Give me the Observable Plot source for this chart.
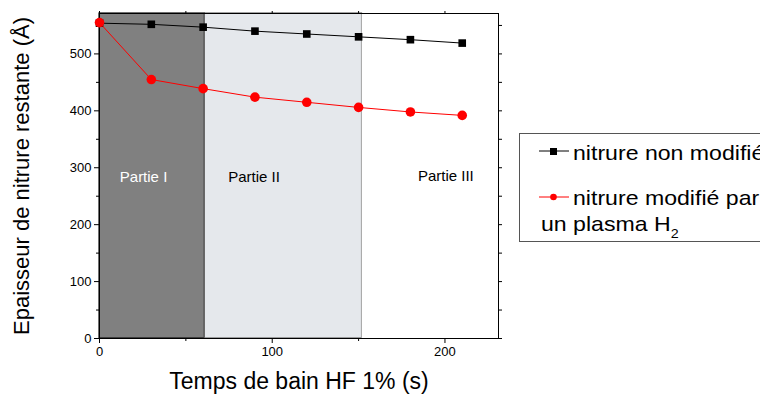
<!DOCTYPE html>
<html><head><meta charset="utf-8">
<script src="https://cdn.jsdelivr.net/npm/d3@7"></script>
<script src="https://cdn.jsdelivr.net/npm/@observablehq/plot@0.6"></script>
<style>
body{margin:0;background:#fff;font-family:"Liberation Sans",Arial,sans-serif;}
#wrap{position:relative;width:760px;height:396px;overflow:hidden;}
#legend{position:absolute;left:519px;top:133px;width:260px;height:109px;border:1px solid #555;box-sizing:border-box;color:#000;}
.sw{position:absolute;}
.tx{position:absolute;white-space:nowrap;font-size:21px;line-height:21px;transform-origin:0 0;transform:scaleX(1.10);}
</style></head>
<body><div id="wrap"><div id="chart"></div>
<div id="legend">
 <svg class="sw" style="left:19px;top:10px" width="32" height="14"><line x1="0" y1="7" x2="30" y2="7" stroke="#000"/><rect x="11" y="4" width="7" height="7" fill="#000"/></svg>
 <div class="tx" style="left:53px;top:8px">nitrure non modifié</div>
 <svg class="sw" style="left:19px;top:56px" width="32" height="14"><line x1="0" y1="7" x2="30" y2="7" stroke="#f00"/><circle cx="14.5" cy="7" r="3.3" fill="#f00"/></svg>
 <div class="tx" style="left:53px;top:53px">nitrure modifié par</div>
 <div class="tx" style="left:21px;top:79px">un plasma H<span style="font-size:13px;position:relative;top:7px">2</span></div>
</div></div>
<script>
const temps = [0, 30, 60, 90, 120, 150, 180, 210];
const nonModifie = [554, 552, 547, 540, 535, 530, 525, 519];
const modifie = [555, 455, 439, 424, 415, 406, 398, 392];
const regionStart = [0, 61, 152];
const regionEnd = [61, 152, 231];
const regionFill = ["#808080", "#e5e8ec", "#ffffff"];
const regionStroke = ["#111", "#666", "none"];
const partieLabels = ["Partie I", "Partie II", "Partie III"];
const partieX = [25.5, 89.5, 200.5];
const partieY = [283, 283, 286];
const partieColor = ["#fff", "#000", "#000"];

const yMax = 571;
const rows1 = temps.map((t, i) => ({t, v: nonModifie[i]}));
const rows2 = temps.map((t, i) => ({t, v: modifie[i]}));
const regions = regionStart.map((s, i) => ({s, e: regionEnd[i], f: regionFill[i], st: regionStroke[i]}));
const labels = partieLabels.map((l, i) => ({l, x: partieX[i], y: partieY[i], c: partieColor[i]}));

const chart = Plot.plot({
  width: 760, height: 396,
  marginLeft: 99, marginRight: 262, marginTop: 13, marginBottom: 58,
  style: {fontFamily: "Liberation Sans, Arial, sans-serif", fontSize: "13px", color: "#000", background: "transparent"},
  x: {domain: [0, 231]},
  y: {domain: [0, yMax]},
  marks: [
    Plot.rect(regions, {x1: "s", x2: "e", y1: 0, y2: yMax, fill: "f", stroke: "st", strokeWidth: 1.2}),
    Plot.text(labels, {x: "x", y: "y", text: "l", fill: "c", fontSize: 15}),
    Plot.frame({stroke: "#000", strokeWidth: 1}),
    Plot.axisX({ticks: [0, 100, 200], tickSize: 5, tickPadding: 3, label: "Temps de bain HF 1% (s)", labelAnchor: "center", labelArrow: "none", labelOffset: 50, fontSize: 13}),
    Plot.axisX({ticks: [50, 150], tickSize: 3, text: null, label: null}),
    Plot.axisX({anchor: "top", ticks: [0, 50, 100, 150, 200], tickSize: 3, text: null, label: null}),
    Plot.axisY({ticks: [0, 100, 200, 300, 400, 500], tickSize: 5, tickPadding: 3, label: "Epaisseur de nitrure restante (Å)", labelAnchor: "center", labelArrow: "none", labelOffset: 86, fontSize: 13}),
    Plot.axisY({ticks: [50, 150, 250, 350, 450, 550], tickSize: 3, text: null, label: null}),
    Plot.axisY({anchor: "right", ticks: [0, 50, 100, 150, 200, 250, 300, 350, 400, 450, 500, 550], tickSize: 3, text: null, label: null}),
    Plot.line(rows1, {x: "t", y: "v", stroke: "#000", strokeWidth: 1}),
    Plot.dot(rows1, {x: "t", y: "v", symbol: "square", r: 4.3, fill: "#000"}),
    Plot.line(rows2, {x: "t", y: "v", stroke: "#f00", strokeWidth: 1}),
    Plot.dot(rows2, {x: "t", y: "v", r: 4.8, fill: "#f00"})
  ]
});
document.getElementById("chart").appendChild(chart);
chart.querySelectorAll("g[aria-label='x-axis label'] text").forEach(t => t.setAttribute("font-size", "23"));
chart.querySelectorAll("g[aria-label='y-axis label'] text").forEach(t => t.setAttribute("font-size", "22"));
</script></body></html>
